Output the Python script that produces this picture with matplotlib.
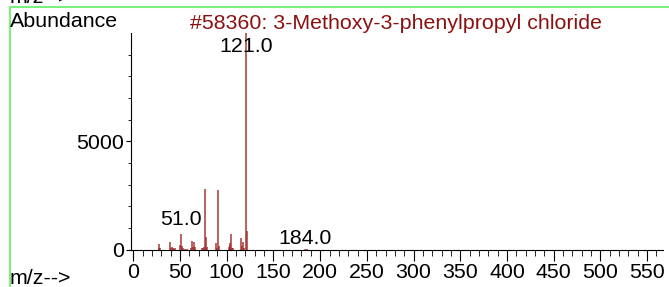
import matplotlib
matplotlib.use('Agg')
import matplotlib.pyplot as plt
from matplotlib.ticker import MultipleLocator, FixedLocator
from matplotlib.lines import Line2D

plt.rcParams['font.family'] = ['Liberation Sans', 'DejaVu Sans']

# peak list (m/z, abundance)
mz = [27, 28, 29, 39, 40, 41, 42, 43, 45, 50, 51, 52, 53, 55, 57,
      62, 63, 64, 65, 66, 74, 75, 76, 77, 78, 79, 89, 90, 91, 92,
      102, 103, 104, 105, 106, 107, 115, 116, 117, 118, 121, 122, 184, 186]
abundance = [260, 60, 90, 325, 50, 120, 60, 40, 60, 230, 725, 140, 50, 40, 30,
             60, 370, 100, 340, 100, 60, 50, 100, 2780, 600, 100, 300, 60, 2730, 170,
             100, 220, 280, 730, 80, 60, 520, 150, 330, 60, 9999, 840, 15, 5]

label_mz = [121, 51, 184]
label_text = ['121.0', '51.0', '184.0']
label_offset_px = [-13, 14, 11]

title = '#58360: 3-Methoxy-3-phenylpropyl chloride'
FS = 15.4

W, H = 669, 287
fig = plt.figure(figsize=(W / 100, H / 100), dpi=100)
ax = fig.add_axes([131 / W, 1 - 249.5 / H, 532 / W, 216.5 / H])

ax.vlines(mz, 0, abundance, color='#a52a2a', alpha=0.8, linewidth=1.3)

ax.set_xlim(-2.5, 567)
ax.set_ylim(0, 10000)
for side in ['top', 'right']:
    ax.spines[side].set_visible(False)
for side in ['left', 'bottom']:
    ax.spines[side].set_linewidth(0.8)

ax.xaxis.set_major_locator(MultipleLocator(50))
ax.xaxis.set_minor_locator(MultipleLocator(10))
ax.yaxis.set_major_locator(FixedLocator([0, 5000]))
ax.yaxis.set_minor_locator(FixedLocator(range(1000, 10000, 1000)))
ax.tick_params(axis='x', which='major', length=8, width=0.8, labelsize=FS, pad=1.5)
ax.tick_params(axis='x', which='minor', length=4.5, width=0.6)
ax.tick_params(axis='y', which='major', length=3.5, width=0.8, labelsize=FS, pad=1.5)
ax.tick_params(axis='y', which='minor', length=2, width=0.6)

lookup = dict(zip(mz, abundance))
for m, t, off in zip(label_mz, label_text, label_offset_px):
    ax.annotate(t, (m, lookup[m]), xytext=(0, off * 0.72), textcoords='offset points',
                ha='center', va='center', fontsize=FS, color='black',
                annotation_clip=False)

fig.text(10 / W, 1 - 26.7 / H, 'Abundance', fontsize=FS, va='baseline', ha='left')
fig.text(190 / W, 1 - 29 / H, title, fontsize=FS, va='baseline', ha='left',
         color='#8b1010')
fig.text(10 / W, 1 - 284 / H, 'm/z-->', fontsize=FS, va='baseline', ha='left')
fig.text(10 / W, 1 - 3 / H, 'm/z-->', fontsize=FS, va='baseline', ha='left')

# green frame lines
fig.add_artist(Line2D([9.5 / W, 1], [1 - 6.5 / H, 1 - 6.5 / H],
                      transform=fig.transFigure, color='#7cf07c', linewidth=1.5))
fig.add_artist(Line2D([9.5 / W, 9.5 / W], [0, 1 - 6.5 / H],
                      transform=fig.transFigure, color='#7cf07c', linewidth=1.5))

fig.savefig('out.png', dpi=100)
